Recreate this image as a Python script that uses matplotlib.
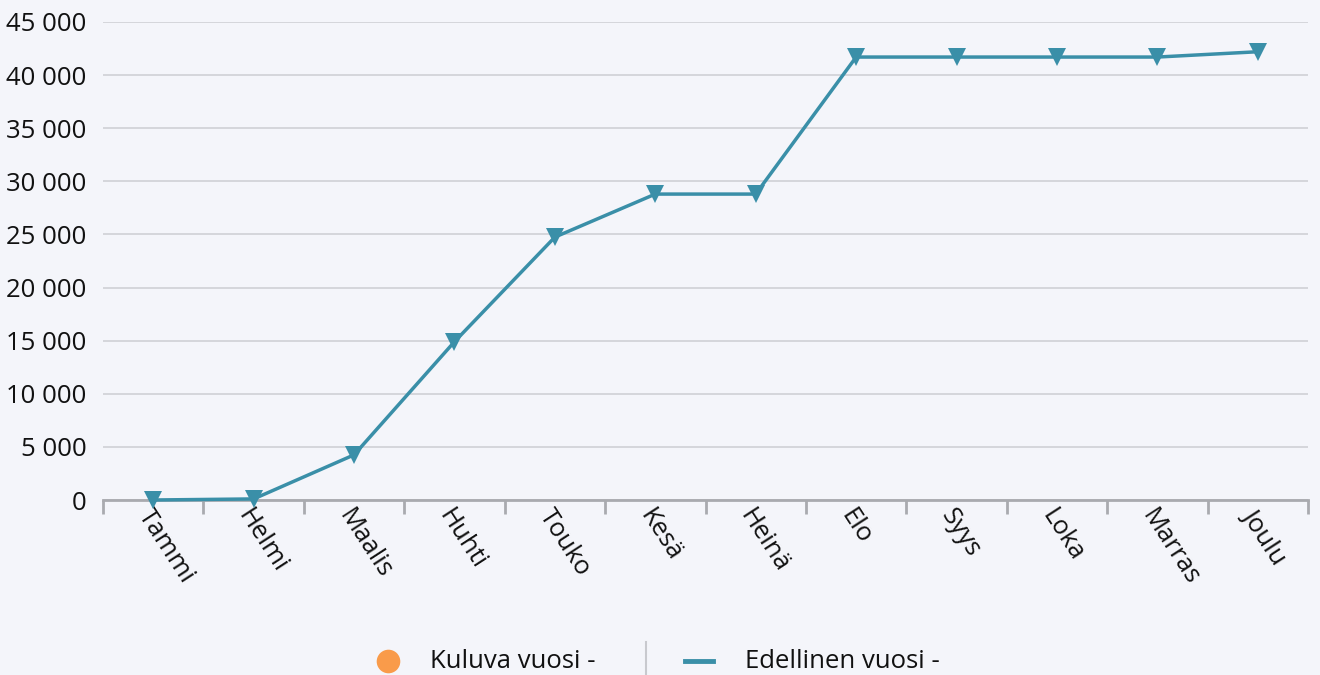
import matplotlib
matplotlib.use("Agg")
import matplotlib.pyplot as plt
from matplotlib.lines import Line2D
from matplotlib.ticker import FuncFormatter, FixedLocator

plt.rcParams['font.family'] = ['Open Sans', 'DejaVu Sans']

# Data
months = ['Tammi', 'Helmi', 'Maalis', 'Huhti', 'Touko', 'Kesä',
          'Heinä', 'Elo', 'Syys', 'Loka', 'Marras', 'Joulu']
previous_year = [0, 100, 4250, 14900, 24750, 28800,
                 28800, 41700, 41700, 41700, 41700, 42200]
current_year = []  # no values yet
y_ticks = [0, 5000, 10000, 15000, 20000, 25000, 30000, 35000, 40000, 45000]
legend_labels = ['Kuluva vuosi -', 'Edellinen vuosi -']

BG = '#f4f5fa'
TEAL = '#3a8fa8'
ORANGE = '#f99b4a'
TXT = '#111111'
FS = 18.5
W, H = 1320, 675

fig = plt.figure(figsize=(13.2, 6.75), dpi=100, facecolor=BG)
ax = fig.add_axes([103 / W, 1 - 500 / H, 1205 / W, 478 / H])
ax.set_facecolor(BG)

x = list(range(len(months)))
ax.plot(x, previous_year, color=TEAL, lw=2.5, marker='v', ms=13,
        markeredgewidth=0, zorder=3, clip_on=False)
ax.plot(x[:len(current_year)], current_year, ls='none', marker='o', color=ORANGE)

ax.set_xlim(-0.5, len(months) - 0.5)
ax.set_ylim(0, 45000)

# y axis
ax.yaxis.set_major_locator(FixedLocator(y_ticks))
ax.yaxis.set_major_formatter(FuncFormatter(lambda v, p: f'{int(v):,}'.replace(',', ' ')))
ax.tick_params(axis='y', length=0, pad=12, labelsize=FS, colors=TXT)
ax.grid(axis='y', color='#d2d3d8', lw=1.3)
ax.set_axisbelow(True)

# x axis: ticks at band edges, labels at band centres
ax.xaxis.set_major_locator(FixedLocator([i - 0.5 for i in range(len(months) + 1)]))
ax.xaxis.set_major_formatter(FuncFormatter(lambda v, p: ''))
ax.tick_params(axis='x', which='major', length=10, width=2, color='#a9aaaf')
ax.set_xticks(x, minor=True)
ax.set_xticklabels(months, minor=True, rotation=-57, ha='left', va='top',
                   rotation_mode='anchor', fontsize=FS, color=TXT)
ax.tick_params(axis='x', which='minor', length=0, pad=3)

for s in ['top', 'right', 'left']:
    ax.spines[s].set_visible(False)
ax.spines['bottom'].set_color('#a9aaaf')
ax.spines['bottom'].set_linewidth(2)

# legend, placed by hand
ly = 1 - 661 / H
fig.add_artist(Line2D([388 / W], [ly], ls='none', marker='o', ms=17,
                      color=ORANGE, markeredgewidth=0))
fig.text(430 / W, ly, legend_labels[0], fontsize=FS, color=TXT, va='center')
fig.add_artist(Line2D([646 / W, 646 / W], [1 - 642 / H, 0], color='#c8c9ce', lw=1.5))
fig.add_artist(Line2D([685 / W, 713 / W], [ly, ly], color=TEAL, lw=3.5))
fig.text(745 / W, ly, legend_labels[1], fontsize=FS, color=TXT, va='center')

fig.savefig('out.png', dpi=100, facecolor=BG)
